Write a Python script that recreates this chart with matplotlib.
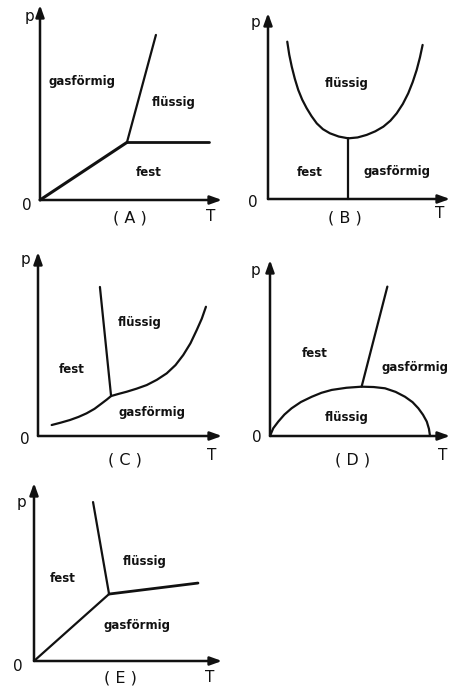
import matplotlib
matplotlib.use("Agg")
import matplotlib.pyplot as plt

W, H = 455, 687
S = 18.0  # pixels per unit on both axes

# (A) sublimation, melting and vaporisation lines meeting at the triple point
a_sub_T = [0.0, 4.83]
a_sub_p = [0.0, 3.2]
a_melt_T = [4.83, 6.44]
a_melt_p = [3.2, 9.17]
a_vap_T = [4.83, 9.39]
a_vap_p = [3.2, 3.2]

# (B) U-shaped boundary with a vertical line down from its minimum
b_curve_T = [1.07, 1.18, 1.32, 1.49, 1.68, 1.9, 2.15, 2.42, 2.71, 3.05, 3.44, 3.93, 4.46,
             4.98, 5.48, 5.96, 6.41, 6.8, 7.15, 7.49, 7.79, 8.04, 8.26, 8.44, 8.59]
b_curve_p = [8.74, 8.02, 7.35, 6.68, 6.06, 5.52, 5.04, 4.6, 4.2, 3.88, 3.65, 3.47, 3.37,
             3.42, 3.56, 3.76, 4.02, 4.35, 4.76, 5.28, 5.87, 6.5, 7.17, 7.86, 8.56]
b_vert_T = [4.46, 4.46]
b_vert_p = [3.37, 0.0]

# (C) rising curve and a steep melting line leaning back
c_curve_T = [0.76, 1.26, 1.78, 2.25, 2.7, 3.14, 3.54, 3.83, 4.06, 4.48, 4.93, 5.48, 6.04,
             6.6, 7.15, 7.64, 8.07, 8.47, 8.82, 9.1, 9.33]
c_curve_p = [0.61, 0.74, 0.89, 1.06, 1.26, 1.51, 1.81, 2.03, 2.22, 2.34, 2.46, 2.63, 2.83,
             3.12, 3.48, 3.94, 4.5, 5.15, 5.89, 6.52, 7.18]
c_melt_T = [4.06, 3.44]
c_melt_p = [2.22, 8.28]

# (D) dome from the origin back to the T axis, with one line rising from its top
d_dome_T = [0.0, 0.18, 0.46, 0.8, 1.2, 1.72, 2.32, 2.86, 3.43, 4.25, 5.09, 5.76, 6.39,
            6.98, 7.5, 7.92, 8.24, 8.5, 8.71, 8.83, 8.89]
d_dome_p = [0.0, 0.43, 0.8, 1.19, 1.54, 1.89, 2.18, 2.4, 2.56, 2.68, 2.74, 2.72, 2.65,
            2.45, 2.18, 1.88, 1.54, 1.18, 0.8, 0.4, 0.0]
d_line_T = [5.09, 6.52]
d_line_p = [2.74, 8.3]

# (E) three straight lines meeting at the triple point
e_sub_T = [0.0, 4.17]
e_sub_p = [0.0, 3.72]
e_melt_T = [4.17, 3.28]
e_melt_p = [3.72, 8.83]
e_vap_T = [4.17, 9.11]
e_vap_p = [3.72, 4.33]

fig = plt.figure(figsize=(W / 100, H / 100), dpi=100)
fig.patch.set_facecolor("white")

label_kw = dict(fontsize=8.5, fontweight="bold", ha="center", va="center", color="#111111")
axis_kw = dict(fontsize=11, ha="center", va="center", color="#111111")


def add_panel(x0, y0, xlen, ylen, tag, p_pos, zero_pos, t_pos, tag_pos):
    ax = fig.add_axes([x0 / W, 1 - y0 / H, xlen / W, ylen / H])
    xmax, ymax = xlen / S, ylen / S
    ax.set_xlim(0, xmax)
    ax.set_ylim(0, ymax)
    ax.axis("off")
    arrow = dict(arrowstyle="-|>,head_length=0.5,head_width=0.18", lw=1.8,
                 color="#111111", shrinkA=0, shrinkB=0, mutation_scale=14)
    ax.annotate("", xy=(xmax, 0), xytext=(0, 0), arrowprops=arrow, annotation_clip=False)
    ax.annotate("", xy=(0, ymax), xytext=(0, 0), arrowprops=arrow, annotation_clip=False)
    ax.text(*p_pos, "p", clip_on=False, **axis_kw)
    ax.text(*zero_pos, "0", clip_on=False, **axis_kw)
    ax.text(*t_pos, "T", clip_on=False, **axis_kw)
    ax.text(*tag_pos, f"( {tag} )", clip_on=False, fontsize=11.5, ha="center", va="center",
            color="#111111")
    return ax


line_kw = dict(color="#111111", lw=1.6, solid_capstyle="round", solid_joinstyle="round",
               clip_on=False)

# (A)
ax = add_panel(40, 200, 182, 195, "A", (-0.56, 10.17), (-0.72, -0.28), (9.5, -0.94), (5.0, -1.0))
ax.plot(a_sub_T, a_sub_p, **{**line_kw, "lw": 2.2})
ax.plot(a_melt_T, a_melt_p, **line_kw)
ax.plot(a_vap_T, a_vap_p, **{**line_kw, "lw": 2.0})
ax.text(2.33, 6.56, "gasförmig", **label_kw)
ax.text(7.44, 5.39, "flüssig", **label_kw)
ax.text(6.06, 1.5, "fest", **label_kw)

# (B)
ax = add_panel(268, 199, 182, 186, "B", (-0.72, 9.83), (-0.83, -0.17), (9.56, -0.78), (4.28, -1.06))
ax.plot(b_curve_T, b_curve_p, **line_kw)
ax.plot(b_vert_T, b_vert_p, **line_kw)
ax.text(4.39, 6.44, "flüssig", **label_kw)
ax.text(2.33, 1.5, "fest", **label_kw)
ax.text(7.17, 1.5, "gasförmig", **label_kw)

# (C)
ax = add_panel(38, 436, 184, 184, "C", (-0.72, 9.78), (-0.72, -0.22), (9.67, -1.06), (4.83, -1.33))
ax.plot(c_curve_T, c_curve_p, **line_kw)
ax.plot(c_melt_T, c_melt_p, **line_kw)
ax.text(5.67, 6.28, "flüssig", **label_kw)
ax.text(1.89, 3.67, "fest", **label_kw)
ax.text(6.33, 1.33, "gasförmig", **label_kw)

# (D)
ax = add_panel(270, 436, 180, 176, "D", (-0.83, 9.22), (-0.72, -0.11), (9.61, -1.11), (4.61, -1.33))
ax.plot(d_dome_T, d_dome_p, **line_kw)
ax.plot(d_line_T, d_line_p, **line_kw)
ax.text(2.5, 4.56, "fest", **label_kw)
ax.text(8.06, 3.83, "gasförmig", **label_kw)
ax.text(4.28, 1.0, "flüssig", **label_kw)

# (E)
ax = add_panel(34, 661, 188, 178, "E", (-0.67, 8.78), (-0.89, -0.33), (9.78, -0.94), (4.78, -0.94))
ax.plot(e_sub_T, e_sub_p, **line_kw)
ax.plot(e_melt_T, e_melt_p, **line_kw)
ax.plot(e_vap_T, e_vap_p, **{**line_kw, "lw": 2.0})
ax.text(6.17, 5.5, "flüssig", **label_kw)
ax.text(1.61, 4.56, "fest", **label_kw)
ax.text(5.72, 2.0, "gasförmig", **label_kw)

fig.savefig("out.png", dpi=100, facecolor="white")
